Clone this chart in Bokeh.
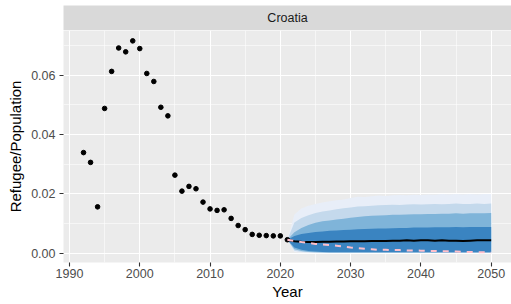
from bokeh.plotting import figure
from bokeh.layouts import column
from bokeh.models import Range1d, FixedTicker, ColumnDataSource
from bokeh.embed import file_html
from bokeh.resources import INLINE
from bokeh.core.properties import value

# ---------------- data ----------------
country = "Croatia"

obs_years = [1992, 1993, 1994, 1995, 1996, 1997, 1998, 1999, 2000, 2001,
             2002, 2003, 2004, 2005, 2006, 2007, 2008, 2009, 2010, 2011,
             2012, 2013, 2014, 2015, 2016, 2017, 2018, 2019, 2020, 2021]
obs_vals = [0.0339, 0.0306, 0.0156, 0.0488, 0.0613, 0.0692, 0.0679, 0.0716, 0.0690, 0.0606,
            0.0579, 0.0492, 0.0463, 0.0263, 0.0209, 0.0225, 0.0217, 0.0172, 0.0149, 0.0144,
            0.0146, 0.0117, 0.0093, 0.0079, 0.0063, 0.0060, 0.0059, 0.0058, 0.0058, 0.0045]

fc_years = [2021, 2022, 2023, 2024, 2025, 2026, 2027, 2028, 2029, 2030,
            2031, 2032, 2033, 2034, 2035, 2036, 2037, 2038, 2039, 2040,
            2041, 2042, 2043, 2044, 2045, 2046, 2047, 2048, 2049, 2050]

# outermost (lightest) band
band4_hi = [0.0045, 0.0130, 0.0150, 0.0160, 0.0166, 0.0171, 0.0175, 0.0178, 0.0181, 0.0186,
            0.0190, 0.0189, 0.0192, 0.0194, 0.0193, 0.0195, 0.0196, 0.0195, 0.0197, 0.0196,
            0.0198, 0.0197, 0.0199, 0.0198, 0.0199, 0.0198, 0.0199, 0.0198, 0.0199, 0.0199]
band4_lo = [0.0045, 0.0004, 0.0002, 0.0001, 0.0001, 0.0001, 0.0001, 0.0001, 0.0001, 0.0001,
            0.0001, 0.0001, 0.0001, 0.0001, 0.0001, 0.0001, 0.0001, 0.0001, 0.0001, 0.0001,
            0.0001, 0.0001, 0.0001, 0.0001, 0.0001, 0.0001, 0.0001, 0.0001, 0.0001, 0.0001]
band3_hi = [0.0045, 0.0103, 0.0118, 0.0128, 0.0135, 0.0140, 0.0144, 0.0148, 0.0151, 0.0154,
            0.0157, 0.0158, 0.0160, 0.0161, 0.0162, 0.0163, 0.0162, 0.0164, 0.0165, 0.0164,
            0.0165, 0.0166, 0.0165, 0.0166, 0.0167, 0.0166, 0.0166, 0.0167, 0.0166, 0.0167]
band3_lo = [0.0045, 0.0008, 0.0004, 0.0003, 0.0002, 0.0002, 0.0002, 0.0002, 0.0002, 0.0002,
            0.0002, 0.0002, 0.0002, 0.0002, 0.0002, 0.0002, 0.0002, 0.0002, 0.0002, 0.0002,
            0.0002, 0.0002, 0.0002, 0.0002, 0.0002, 0.0002, 0.0002, 0.0002, 0.0002, 0.0002]
band2_hi = [0.0045, 0.0070, 0.0085, 0.0095, 0.0102, 0.0107, 0.0110, 0.0113, 0.0116, 0.0119,
            0.0122, 0.0124, 0.0126, 0.0127, 0.0128, 0.0129, 0.0129, 0.0130, 0.0131, 0.0131,
            0.0132, 0.0132, 0.0133, 0.0133, 0.0134, 0.0133, 0.0134, 0.0134, 0.0134, 0.0135]
band2_lo = [0.0045, 0.0013, 0.0007, 0.0004, 0.0003, 0.0002, 0.0002, 0.0002, 0.0002, 0.0002,
            0.0002, 0.0002, 0.0002, 0.0002, 0.0002, 0.0002, 0.0002, 0.0002, 0.0002, 0.0002,
            0.0002, 0.0002, 0.0002, 0.0002, 0.0002, 0.0002, 0.0002, 0.0002, 0.0002, 0.0002]
band1_hi = [0.0045, 0.0058, 0.0064, 0.0068, 0.0071, 0.0073, 0.0075, 0.0076, 0.0078, 0.0079,
            0.0080, 0.0081, 0.0082, 0.0083, 0.0083, 0.0084, 0.0085, 0.0085, 0.0086, 0.0086,
            0.0086, 0.0087, 0.0087, 0.0087, 0.0088, 0.0087, 0.0088, 0.0088, 0.0088, 0.0088]
band1_lo = [0.0045, 0.0019, 0.0011, 0.0007, 0.0005, 0.0004, 0.0003, 0.0003, 0.0003, 0.0003,
            0.0003, 0.0003, 0.0003, 0.0003, 0.0003, 0.0003, 0.0003, 0.0003, 0.0003, 0.0003,
            0.0003, 0.0003, 0.0003, 0.0003, 0.0003, 0.0003, 0.0003, 0.0003, 0.0003, 0.0003]

median = [0.0045, 0.0040, 0.0038, 0.0037, 0.0037, 0.0038, 0.0038, 0.0039, 0.0039, 0.0040,
          0.0040, 0.0040, 0.0041, 0.0041, 0.0041, 0.0042, 0.0042, 0.0043, 0.0042, 0.0043,
          0.0043, 0.0042, 0.0043, 0.0042, 0.0042, 0.0041, 0.0042, 0.0043, 0.0043, 0.0043]
baseline = [0.0045, 0.0041, 0.0037, 0.0034, 0.0031, 0.0029, 0.0027, 0.0025, 0.0022, 0.0019,
            0.0017, 0.0015, 0.0013, 0.0011, 0.0011, 0.0010, 0.0010, 0.0009, 0.0009, 0.0008,
            0.0007, 0.0007, 0.0006, 0.0006, 0.0005, 0.0004, 0.0004, 0.0003, 0.0003, 0.0002]

x_ticks = [1990, 2000, 2010, 2020, 2030, 2040, 2050]
x_minor = [1995, 2005, 2015, 2025, 2035, 2045]
y_ticks = [0.0, 0.02, 0.04, 0.06]
y_tick_labels = ["0.00", "0.02", "0.04", "0.06"]
y_minor = [0.01, 0.03, 0.05, 0.07]

FONT = "Liberation Sans"
W = 511
LEFT = 63

# ---------------- strip ----------------
strip = figure(width=W, height=30, x_range=Range1d(0, 1), y_range=Range1d(0, 1),
               toolbar_location=None, output_backend="svg",
               x_axis_location=None, y_axis_location=None,
               min_border_left=LEFT, min_border_right=0, min_border_top=5, min_border_bottom=0)
strip.grid.visible = False
strip.background_fill_color = "#d9d9d9"
strip.border_fill_color = "white"
strip.outline_line_color = None
strip.text(x=[0.5], y=[0.5], text=[country], text_align="center", text_baseline="middle",
           text_font=value(FONT), text_font_size="12.5px", text_color="#1a1a1a")

# ---------------- main panel ----------------
p = figure(width=W, height=274,
           x_range=Range1d(1989.15, 2052.89), y_range=Range1d(-0.00318, 0.0751),
           toolbar_location=None, output_backend="svg",
           min_border_left=LEFT, min_border_right=0, min_border_top=0, min_border_bottom=42)
p.background_fill_color = "#ebebeb"
p.border_fill_color = "white"
p.outline_line_color = None

src = ColumnDataSource(dict(x=fc_years, b4l=band4_lo, b4h=band4_hi, b3l=band3_lo, b3h=band3_hi,
                            b2l=band2_lo, b2h=band2_hi, b1l=band1_lo, b1h=band1_hi,
                            med=median, base=baseline))
p.varea(x="x", y1="b4l", y2="b4h", source=src, fill_color="#e8eef8")
p.varea(x="x", y1="b3l", y2="b3h", source=src, fill_color="#c4d9ec")
p.varea(x="x", y1="b2l", y2="b2h", source=src, fill_color="#7fb4d9")
p.varea(x="x", y1="b1l", y2="b1h", source=src, fill_color="#3a84c1")

p.scatter(x=obs_years, y=obs_vals, size=4.6, color="black")
p.line(x="x", y="med", source=src, line_color="black", line_width=2)
p.line(x="x", y="base", source=src, line_color="#FFC0CB", line_width=2, line_dash="6 6")

p.xaxis.ticker = FixedTicker(ticks=x_ticks, minor_ticks=x_minor)
p.yaxis.ticker = FixedTicker(ticks=y_ticks, minor_ticks=y_minor)
p.yaxis.major_label_overrides = {t: l for t, l in zip(y_ticks, y_tick_labels)}

for g in (p.xgrid, p.ygrid):
    g.grid_line_color = "white"
    g.grid_line_width = 1.1
    g.minor_grid_line_color = "white"
    g.minor_grid_line_width = 0.55

for ax in (p.xaxis, p.yaxis):
    ax.axis_line_color = None
    ax.major_tick_line_color = "#333333"
    ax.major_tick_line_width = 1.1
    ax.major_tick_out = 4
    ax.major_tick_in = 0
    ax.minor_tick_line_color = None
    ax.major_label_text_font = FONT
    ax.major_label_text_font_size = "12.5px"
    ax.major_label_text_color = "#4d4d4d"
    ax.axis_label_text_font = FONT
    ax.axis_label_text_font_size = "15px"
    ax.axis_label_text_font_style = "normal"
    ax.axis_label_text_color = "black"

p.xaxis.axis_label = "Year"
p.yaxis.axis_label = "Refugee/Population"
p.xaxis.major_label_standoff = 2
p.xaxis.axis_label_standoff = 2
p.yaxis.major_label_standoff = 4
p.yaxis.axis_label_standoff = 4

layout = column(strip, p, spacing=0)
open("out.html", "w").write(file_html(layout, INLINE))
